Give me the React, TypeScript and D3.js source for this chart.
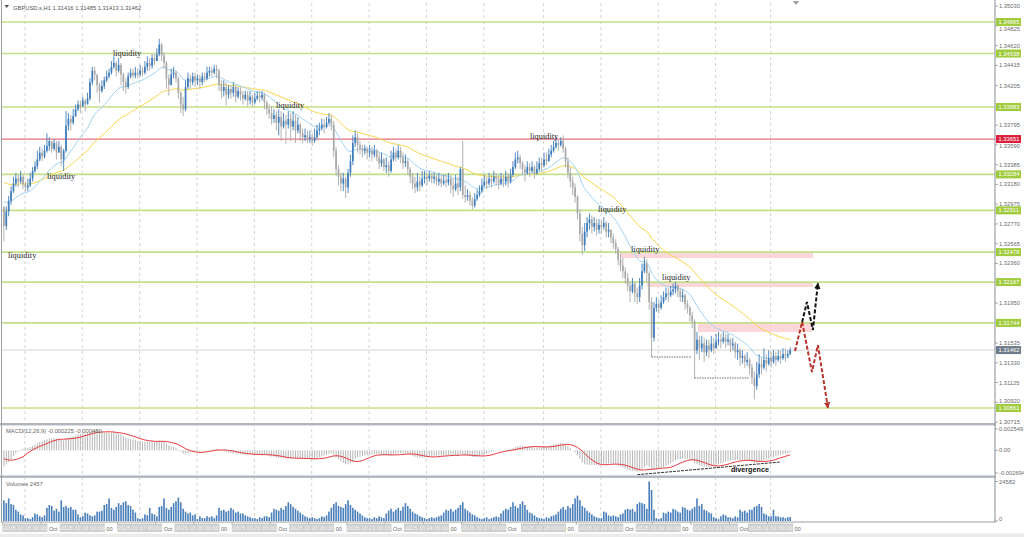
import React from 'react';
import * as d3 from 'd3';

// ---------- DATA (prices in 1e-4 units, i.e. 13275 = 1.3275) ----------
const CLOSE_X1E4 = [
13275,13290,13301,13311,13319,13324,13321,13326,13318,13315,
13317,13324,13332,13337,13344,13351,13347,13353,13358,13363,
13355,13361,13351,13357,13344,13353,13379,13386,13382,13389,
13396,13401,13399,13405,13401,13407,13424,13436,13432,13421,
13415,13420,13426,13430,13434,13440,13444,13436,13442,13432,
13424,13419,13430,13434,13431,13434,13432,13436,13434,13440,
13444,13441,13449,13446,13453,13463,13452,13444,13428,13421,
13432,13434,13428,13413,13401,13396,13419,13428,13424,13430,
13426,13428,13424,13430,13428,13434,13436,13434,13438,13436,
13421,13415,13419,13411,13417,13413,13419,13409,13415,13411,
13407,13411,13405,13409,13403,13407,13410,13408,13411,13403,
13396,13392,13386,13390,13382,13388,13378,13384,13380,13386,
13378,13384,13374,13380,13371,13367,13369,13365,13367,13363,
13367,13374,13376,13380,13378,13382,13386,13380,13353,13334,
13326,13319,13324,13315,13330,13342,13361,13367,13359,13355,
13353,13355,13351,13353,13349,13353,13346,13340,13344,13336,
13338,13332,13344,13351,13346,13353,13346,13340,13342,13334,
13326,13319,13315,13321,13317,13324,13326,13324,13327,13324,
13326,13321,13324,13319,13322,13320,13324,13317,13313,13319,
13315,13334,13307,13305,13307,13301,13296,13303,13307,13311,
13317,13321,13319,13324,13321,13326,13324,13319,13324,13321,
13326,13321,13328,13336,13344,13346,13340,13334,13330,13336,
13332,13336,13330,13334,13340,13338,13344,13342,13349,13353,
13357,13361,13359,13363,13355,13342,13330,13321,13315,13305,
13288,13267,13255,13269,13278,13282,13274,13278,13271,13276,
13274,13278,13269,13271,13263,13257,13251,13240,13234,13228,
13221,13213,13207,13215,13205,13201,13213,13228,13236,13226,
13196,13159,13190,13194,13190,13196,13201,13205,13203,13207,
13209,13213,13207,13201,13203,13194,13190,13182,13176,13146,
13157,13148,13153,13144,13151,13146,13153,13148,13155,13157,
13155,13159,13155,13157,13151,13153,13144,13146,13138,13140,
13134,13136,13128,13117,13109,13121,13132,13128,13136,13132,
13138,13134,13140,13136,13140,13138,13142,13140,13142,13146];

const HIGH_X1E4 = [
13295,13295,13306,13316,13326,13330,13328,13332,13328,13321,
13324,13330,13336,13342,13353,13357,13355,13359,13371,13367,
13363,13365,13363,13363,13359,13355,13394,13392,13390,13396,
13401,13405,13405,13409,13407,13413,13428,13440,13440,13432,
13424,13426,13430,13436,13438,13446,13451,13446,13449,13444,
13434,13428,13434,13438,13438,13440,13438,13442,13440,13446,
13451,13449,13453,13453,13459,13469,13465,13455,13446,13432,
13438,13440,13436,13430,13415,13409,13426,13434,13432,13434,
13434,13432,13432,13434,13434,13440,13440,13440,13442,13442,
13438,13426,13426,13424,13421,13421,13424,13421,13419,13419,
13415,13415,13415,13415,13411,13413,13415,13415,13415,13413,
13405,13401,13399,13396,13394,13396,13394,13392,13390,13394,
13392,13394,13390,13388,13382,13376,13376,13374,13374,13371,
13376,13380,13382,13386,13386,13388,13392,13390,13384,13357,
13338,13330,13330,13326,13334,13349,13369,13374,13371,13363,
13359,13359,13357,13359,13357,13359,13355,13351,13351,13346,
13346,13342,13353,13357,13355,13359,13357,13351,13349,13344,
13336,13330,13326,13330,13326,13332,13332,13330,13332,13330,
13330,13328,13330,13328,13328,13328,13330,13328,13324,13328,
13326,13336,13363,13317,13313,13311,13305,13309,13313,13317,
13324,13328,13326,13330,13328,13332,13330,13328,13330,13328,
13332,13330,13334,13342,13351,13353,13349,13342,13338,13342,
13340,13342,13338,13342,13346,13346,13351,13351,13355,13359,
13363,13367,13365,13367,13369,13357,13346,13336,13326,13319,
13307,13292,13274,13278,13284,13288,13286,13284,13282,13282,
13280,13284,13280,13278,13271,13267,13261,13253,13246,13242,
13232,13226,13217,13221,13217,13211,13221,13236,13243,13240,
13228,13201,13196,13201,13198,13203,13207,13211,13211,13213,
13215,13217,13215,13211,13209,13205,13198,13192,13186,13178,
13165,13161,13161,13159,13157,13157,13161,13159,13163,13165,
13163,13165,13163,13163,13159,13159,13155,13153,13148,13146,
13142,13144,13138,13132,13124,13134,13142,13138,13148,13142,
13146,13144,13146,13144,13146,13146,13148,13148,13146,13149];

const LOW_X1E4 = [
13259,13271,13285,13297,13309,13316,13315,13319,13313,13311,
13311,13315,13321,13330,13334,13342,13342,13345,13351,13353,
13351,13353,13344,13351,13337,13332,13351,13374,13374,13380,
13388,13394,13392,13399,13394,13401,13405,13421,13426,13413,
13403,13413,13417,13424,13428,13432,13438,13430,13434,13421,
13415,13412,13417,13428,13428,13428,13428,13430,13430,13432,
13436,13436,13438,13442,13446,13451,13446,13438,13417,13410,
13421,13428,13424,13407,13392,13389,13394,13417,13417,13421,
13419,13421,13417,13421,13424,13426,13430,13430,13432,13428,
13415,13407,13409,13400,13407,13407,13409,13403,13407,13405,
13401,13405,13399,13401,13399,13401,13405,13403,13405,13396,
13390,13386,13380,13382,13374,13369,13363,13376,13360,13376,
13363,13374,13361,13371,13363,13361,13363,13361,13361,13358,
13361,13365,13369,13374,13371,13376,13380,13374,13346,13327,
13317,13311,13311,13304,13309,13326,13338,13357,13351,13349,
13346,13349,13344,13346,13342,13346,13342,13334,13336,13332,
13330,13326,13330,13342,13342,13344,13340,13334,13336,13328,
13319,13313,13309,13311,13311,13315,13319,13317,13321,13319,
13319,13317,13317,13315,13317,13315,13317,13309,13305,13311,
13307,13311,13303,13299,13301,13296,13292,13294,13301,13305,
13309,13315,13313,13317,13315,13319,13317,13313,13317,13315,
13317,13315,13319,13326,13334,13340,13334,13328,13321,13328,
13326,13330,13324,13328,13332,13332,13336,13338,13342,13346,
13351,13355,13353,13357,13351,13336,13324,13315,13307,13299,
13282,13259,13245,13249,13263,13271,13267,13269,13265,13267,
13267,13271,13263,13263,13257,13251,13246,13234,13228,13221,
13215,13207,13196,13205,13196,13194,13196,13209,13226,13217,
13188,13139,13155,13186,13184,13188,13194,13198,13196,13201,
13203,13205,13201,13196,13196,13188,13184,13176,13169,13117,
13142,13136,13144,13134,13140,13138,13144,13142,13148,13151,
13148,13153,13148,13151,13144,13146,13138,13136,13130,13132,
13128,13130,13121,13111,13095,13105,13117,13121,13126,13124,
13130,13128,13132,13130,13134,13132,13136,13134,13138,13141];

const VOLUME = [
12870,11115,14040,10530,9945,7020,5850,4095,3510,1755,
1755,1170,2340,4680,4095,2925,2340,3510,8190,9945,
9360,6435,7605,5850,12870,8775,9360,8190,8775,7020,
7020,4095,2340,2925,5265,4680,3510,2925,3510,5850,
5850,6435,9945,10530,14040,8190,7020,8775,11115,9945,
11700,12285,9945,9360,7020,5265,1755,1170,1755,4095,
3510,8190,4680,4095,2925,8775,9360,14040,8190,7020,
8775,11115,12285,14625,11700,7605,5850,4680,5265,3510,
4095,1170,2925,1755,1755,2925,2340,2925,1755,3510,
8190,6435,7020,5850,6435,8190,7020,5265,5850,4680,
4680,3510,2925,2340,1755,1755,1170,2340,1755,2925,
2925,2340,5265,7605,7020,6435,8190,7020,9360,11700,
10530,8775,7605,6435,5265,4095,2925,2340,1755,2340,
1755,1170,1755,2925,2340,3510,5850,8190,10530,11700,
9360,8775,8190,10530,12870,9945,8190,7020,5850,4680,
3510,2340,1755,1755,1170,2340,1755,2925,2340,1755,
4680,6435,7605,5850,7020,8190,6435,8775,11115,9360,
7605,5850,4680,4095,2925,2340,1755,1170,1755,2340,
1755,2340,2925,3510,5265,7020,6435,7605,5850,7020,
8190,9945,11700,7605,6435,5265,4095,3510,2340,1755,
1170,1755,2340,1170,1755,2340,2925,2340,4680,6435,
7605,7020,8775,11700,9360,8190,10530,12285,9945,7020,
5265,4680,3510,2340,1755,1755,1170,2340,1755,2925,
3510,4095,5850,7605,8775,7020,9360,8190,10530,14040,
15795,12870,9360,8190,6435,5265,4095,2925,2340,1755,
1755,5850,5265,3510,2925,3510,2925,2340,4095,4680,
7020,7605,7020,7605,5850,10530,11700,11115,10530,7605,
24582,19305,7020,1755,1170,1755,5265,4680,5850,5265,
7605,7020,5850,5265,8775,8190,7020,6435,7605,8775,
14040,9360,10530,7020,6435,5265,4680,2340,1755,1170,
2925,4095,3510,2340,2340,1755,2925,2340,7020,5850,
6435,5265,7020,7020,8775,9360,10530,8775,4680,4095,
2925,2925,7020,2925,2925,2340,2340,1755,2340,2457];

const FIRST_OPEN = 1.3295;
const LAST_OHLC = [1.31416, 1.31485, 1.31413, 1.31462];
const CURRENT_PRICE = 1.31462;
const SYMBOL = 'GBPUSD.s,H1';

const EMA_FAST_SEED = 1.3303;
const EMA_SLOW_SEED = 1.3322;
const MACD_START = -0.0021;
const SIGNAL_START = -0.001;

const PRICE_TICKS = [1.35030, 1.34825, 1.34620, 1.34415, 1.34205, 1.33795, 1.33590, 1.33385, 1.33180,
  1.32975, 1.32770, 1.32565, 1.32360, 1.31950, 1.31535, 1.31330, 1.31125, 1.30920, 1.30715];
const GREEN_LEVELS = [1.34865, 1.34538, 1.33983, 1.33284, 1.32911, 1.32478, 1.32167, 1.31744, 1.30861];
const RED_LEVEL = 1.33651;
const MACD_TICKS = [0.002549, 0, -0.002694];
const MACD_TICK_TEXT = ['0.002549', '0.00', '-0.002694'];
const VOL_TICKS = [24582, 0];
const MACD_HEADER = 'MACD(12,26,9) -0.000225 -0.000480';
const VOL_HEADER = 'Volumes 2457';

const DAY_LABELS = ['2025.10.15', '2025.10.16', '2025.10.17', '2025.10.20', '2025.10.21', '2025.10.22', '2025.10.23',
  '2025.10.24', '2025.10.27', '2025.10.28', '2025.10.29', '2025.10.30', '2025.10.31', '2025.11.03'];
const DAY_START_BAR = [9, 33, 57, 81, 105, 129, 153, 177, 201, 226, 250, 274, 298, 321];
// visible pieces of the regular time-scale labels that peek out between the date boxes
const AXIS_FRAGMENTS = ['Oct', '00'];

// annotations anchored in (bar, price)
const LIQ_BAR = [1.7, 18, 45.6, 113.8, 220.1, 248.6, 262.4, 275.4];
const LIQ_PRICE = [1.32417, 1.33236, 1.34512, 1.33973, 1.33651, 1.32894, 1.32479, 1.32189];
const ZONE_FROM = [257.8, 269, 290.4];
const ZONE_TO = [338.5, 338.5, 338.1];
const ZONE_TOP = [1.32479, 1.32168, 1.31743];
const ZONE_BOTTOM = [1.32417, 1.32116, 1.31649];
const SUPPORT_FROM = [271, 289];
const SUPPORT_TO = [287.5, 312];
const SUPPORT_PRICE = [1.3139, 1.31172];
const RED_PATH_BAR = [331, 334, 338.1, 340.6, 344.8];
const RED_PATH_PRICE = [1.31452, 1.31753, 1.31234, 1.31514, 1.30861];
const BLACK_PATH_BAR = [334, 336, 338.5, 340.6];
const BLACK_PATH_PRICE = [1.31753, 1.31961, 1.3167, 1.32157];
const DIV_BAR = [265, 325];
const DIV_MACD = [-0.0029, -0.00138];
const DIV_LABEL_BAR = 304.2;
const DIV_LABEL_MACD = -0.00257;

// ---------- helpers ----------
function ema(values: number[], period: number, seed: number) {
  const a = 2 / (period + 1);
  let prev = seed;
  return values.map(v => (prev = a * v + (1 - a) * prev));
}

const AX_FONT = '"Liberation Sans", Arial, sans-serif';

export default function App() {
  const close = CLOSE_X1E4.map(v => v / 1e4);
  const high = HIGH_X1E4.map(v => v / 1e4);
  const low = LOW_X1E4.map(v => v / 1e4);
  const n = close.length;
  const open = close.map((c, i) => (i === 0 ? FIRST_OPEN : close[i - 1]));

  const x = d3.scaleLinear().domain([0, n - 1]).range([3.9, 790.2]);
  const y = d3.scaleLinear().domain([1.30861, 1.34865]).range([408, 22]);
  const yM = d3.scaleLinear().domain([-0.002694, 0.002549]).range([473, 429]);
  const yV = d3.scaleLinear().domain([0, 24582]).range([521, 481.5]);

  const emaFast = ema(close, 20, EMA_FAST_SEED);
  const emaSlow = ema(close, 50, EMA_SLOW_SEED);
  const e12 = ema(close, 12, close[0]);
  const e26 = ema(close, 26, close[0] - MACD_START);
  const macd = e12.map((v, i) => v - e26[i]);
  const pad = (9 * SIGNAL_START - macd[0]) / 8;
  const ext = [...Array(8).fill(pad), ...macd];
  const signal = macd.map((_, i) => d3.mean(ext.slice(i, i + 9)) as number);

  const priceLine = d3.line<number>().x((_, i) => x(i)).y(d => y(d));
  const macdLine = d3.line<number>().x((_, i) => x(i)).y(d => yM(d));
  const pathLine = d3.line<[number, number]>().x(d => x(d[0])).y(d => y(d[1]));

  const UP = '#3f7dbb';
  const DOWN = '#a9a9a9';
  const ticks16 = d3.range(0, n, 16);
  const dayX = DAY_START_BAR.map(b => x(b) - 0.5);

  // tick labels are nudged away from the level tags (like the terminal does)
  const tagYs = [...GREEN_LEVELS, RED_LEVEL, CURRENT_PRICE].map(v => y(v));
  const tickY = (v: number) => {
    let ty = y(v);
    for (const g of tagYs) {
      if (Math.abs(ty - g) < 6.6) ty = g + (ty >= g ? 6.6 : -6.6);
    }
    return ty;
  };

  return (
    <svg width={1024} height={537} style={{ position: 'fixed', left: 0, top: 0, background: '#fff' }}
      fontFamily={AX_FONT}>
      <defs>
        <clipPath id="cMain"><rect x={2} y={3} width={993} height={420} /></clipPath>
        <clipPath id="cMacd"><rect x={2} y={426} width={993} height={49} /></clipPath>
        <clipPath id="cVol"><rect x={2} y={478} width={993} height={43} /></clipPath>
        <marker id="arrRed" viewBox="0 0 10 10" refX="9" refY="5" markerWidth="3.2" markerHeight="3.2" orient="auto">
          <path d="M0,0 L10,5 L0,10 z" fill="#b8342c" />
        </marker>
        <marker id="arrBlack" viewBox="0 0 10 10" refX="9" refY="5" markerWidth="3.2" markerHeight="3.2" orient="auto">
          <path d="M0,0 L10,5 L0,10 z" fill="#111" />
        </marker>
      </defs>
      <rect x={0} y={0} width={1024} height={537} fill="#fff" />
      <rect x={0} y={533.5} width={1024} height={4} fill="#ececec" />

      {/* day separators */}
      {dayX.map((dx, k) => (
        <line key={'g' + k} x1={dx} x2={dx} y1={3} y2={521} stroke="#c9c9c9" strokeWidth={0.8} strokeDasharray="3,3" />
      ))}

      {/* main panel */}
      <g clipPath="url(#cMain)">
        {ZONE_FROM.map((b, k) => (
          <rect key={'z' + k} x={x(b)} width={x(ZONE_TO[k]) - x(b)} y={y(ZONE_TOP[k])}
            height={y(ZONE_BOTTOM[k]) - y(ZONE_TOP[k])} fill="#fbd3d6" opacity={0.9} />
        ))}
        {GREEN_LEVELS.map((v, k) => (
          <line key={'l' + k} x1={2} x2={995} y1={y(v)} y2={y(v)} stroke="#c4df8c" strokeWidth={1.6} />
        ))}
        <line x1={2} x2={995} y1={y(RED_LEVEL)} y2={y(RED_LEVEL)} stroke="#e3717e" strokeWidth={1.3} />
        <line x1={2} x2={995} y1={y(CURRENT_PRICE)} y2={y(CURRENT_PRICE)} stroke="#d6d6d6" strokeWidth={1} />

        <path d={priceLine(emaSlow) || ''} fill="none" stroke="#f7d64a" strokeWidth={1} />
        <path d={priceLine(emaFast) || ''} fill="none" stroke="#9fd4f2" strokeWidth={1} />

        {close.map((c, i) => {
          const o = open[i];
          const up = c >= o;
          const col = up ? UP : DOWN;
          const h = Math.max(high[i], o, c);
          const l = Math.min(low[i], o, c);
          const top = y(Math.max(o, c));
          const bh = Math.max(1, y(Math.min(o, c)) - top);
          return (
            <g key={'c' + i}>
              <line x1={x(i)} x2={x(i)} y1={y(h)} y2={y(l)} stroke={col} strokeWidth={0.9} />
              <rect x={x(i) - 0.85} y={top} width={1.7} height={bh} fill={col} />
            </g>
          );
        })}

        {SUPPORT_FROM.map((b, k) => (
          <line key={'s' + k} x1={x(b)} x2={x(SUPPORT_TO[k])} y1={y(SUPPORT_PRICE[k])} y2={y(SUPPORT_PRICE[k])}
            stroke="#444" strokeWidth={0.8} strokeDasharray="1.5,1" />
        ))}

        {LIQ_BAR.map((b, k) => (
          <text key={'q' + k} x={x(b)} y={y(LIQ_PRICE[k])} fontSize={8.4} fill="#262626"
            fontFamily='"Liberation Serif", "Times New Roman", serif'>liquidity</text>
        ))}

        <path d={pathLine(RED_PATH_BAR.map((b, i) => [b, RED_PATH_PRICE[i]] as [number, number])) || ''}
          fill="none" stroke="#b8342c" strokeWidth={2} strokeDasharray="4,2" markerEnd="url(#arrRed)" />
        <path d={pathLine(BLACK_PATH_BAR.map((b, i) => [b, BLACK_PATH_PRICE[i]] as [number, number])) || ''}
          fill="none" stroke="#111" strokeWidth={2} strokeDasharray="4,2" markerEnd="url(#arrBlack)" />
      </g>

      {/* header */}
      <path d="M4.5,5 L9,5 L6.75,8 Z" fill="#555" />
      <text x={13} y={9.6} fontSize={5.8} fill="#555">{`${SYMBOL}  ${LAST_OHLC.map(v => v.toFixed(5)).join(' ')}`}</text>
      <path d="M793,1 L799,1 L796,5 Z" fill="#9aa0a6" />

      {/* MACD panel */}
      <g clipPath="url(#cMacd)">
        {macd.map((m, i) => (
          <line key={'m' + i} x1={x(i)} x2={x(i)} y1={yM(0)} y2={yM(m)} stroke="#b5b5b5" strokeWidth={1} />
        ))}
        <path d={macdLine(signal) || ''} fill="none" stroke="#e8383f" strokeWidth={1} />
        <line x1={x(DIV_BAR[0])} x2={x(DIV_BAR[1])} y1={yM(DIV_MACD[0])} y2={yM(DIV_MACD[1])}
          stroke="#333" strokeWidth={1} strokeDasharray="3,1" />
      </g>
      <text x={x(DIV_LABEL_BAR)} y={yM(DIV_LABEL_MACD)} fontSize={7.2} fontWeight="bold" fill="#111">divergence</text>
      <text x={6} y={433} fontSize={5.8} fill="#666">{MACD_HEADER}</text>

      {/* Volume panel */}
      <g clipPath="url(#cVol)">
        {VOLUME.map((v, i) => (
          <rect key={'v' + i} x={x(i) - 0.8} width={1.6} y={yV(v)} height={yV(0) - yV(v)} fill="#4a7fba" />
        ))}
      </g>
      <text x={6} y={485.5} fontSize={5.8} fill="#666">{VOL_HEADER}</text>

      {/* panel separators & borders */}
      <rect x={0} y={423} width={996} height={2.4} fill="#aeb5bc" />
      <rect x={0} y={475.5} width={996} height={2.4} fill="#aeb5bc" />
      <line x1={1.5} x2={1.5} y1={0} y2={522} stroke="#9aa0a6" strokeWidth={1} />
      <line x1={995} x2={995} y1={0} y2={522.5} stroke="#9aa0a6" strokeWidth={1.2} />
      <line x1={1} x2={995.5} y1={522} y2={522} stroke="#9aa0a6" strokeWidth={1} />

      {/* right price axis */}
      {PRICE_TICKS.map((v, k) => (
        <g key={'pt' + k}>
          <line x1={995} x2={998} y1={y(v)} y2={y(v)} stroke="#888" strokeWidth={0.7} />
          <text x={999} y={tickY(v) + 2} fontSize={5.8} fill="#6b6b6b">{v.toFixed(5)}</text>
        </g>
      ))}
      {GREEN_LEVELS.map((v, k) => (
        <g key={'gl' + k}>
          <rect x={996} y={y(v) - 4} width={25} height={8} fill="#9fcb3c" />
          <text x={998.5} y={y(v) + 2} fontSize={5.8} fill="#fff">{v.toFixed(5)}</text>
        </g>
      ))}
      <rect x={996} y={y(RED_LEVEL) - 4} width={25} height={8} fill="#dc1f3c" />
      <text x={998.5} y={y(RED_LEVEL) + 2} fontSize={5.8} fill="#fff">{RED_LEVEL.toFixed(5)}</text>
      <rect x={996} y={y(CURRENT_PRICE) - 4} width={25} height={8} fill="#6e7b88" />
      <text x={998.5} y={y(CURRENT_PRICE) + 2} fontSize={5.8} fill="#fff">{CURRENT_PRICE.toFixed(5)}</text>

      {MACD_TICKS.map((v, k) => (
        <g key={'mt' + k}>
          <line x1={995} x2={998} y1={yM(v)} y2={yM(v)} stroke="#888" strokeWidth={0.7} />
          <text x={999} y={yM(v) + 2} fontSize={5.8} fill="#6b6b6b">{MACD_TICK_TEXT[k]}</text>
        </g>
      ))}
      {VOL_TICKS.map((v, k) => (
        <g key={'vt' + k}>
          <line x1={995} x2={998} y1={yV(v)} y2={yV(v)} stroke="#888" strokeWidth={0.7} />
          <text x={999} y={Math.min(yV(v) + 2, 521)} fontSize={5.8} fill="#6b6b6b">{String(v)}</text>
        </g>
      ))}

      {/* time axis */}
      {ticks16.map(i => (
        <line key={'tt' + i} x1={x(i) - 1.2} x2={x(i) - 1.2} y1={522} y2={525} stroke="#888" strokeWidth={0.7} />
      ))}
      {dayX.map((dx, k) => (
        <g key={'db' + k}>
          <rect x={dx - 22.5} y={523.5} width={45} height={8.5} fill="#cfcfcf" />
          <text x={dx} y={530} fontSize={5.6} fill="#f4f4f4" textAnchor="middle">{`${DAY_LABELS[k]} 00:00`}</text>
          <text x={dx + 24} y={530.5} fontSize={5.6} fill="#6b6b6b">{AXIS_FRAGMENTS[k % 2]}</text>
        </g>
      ))}
    </svg>
  );
}
